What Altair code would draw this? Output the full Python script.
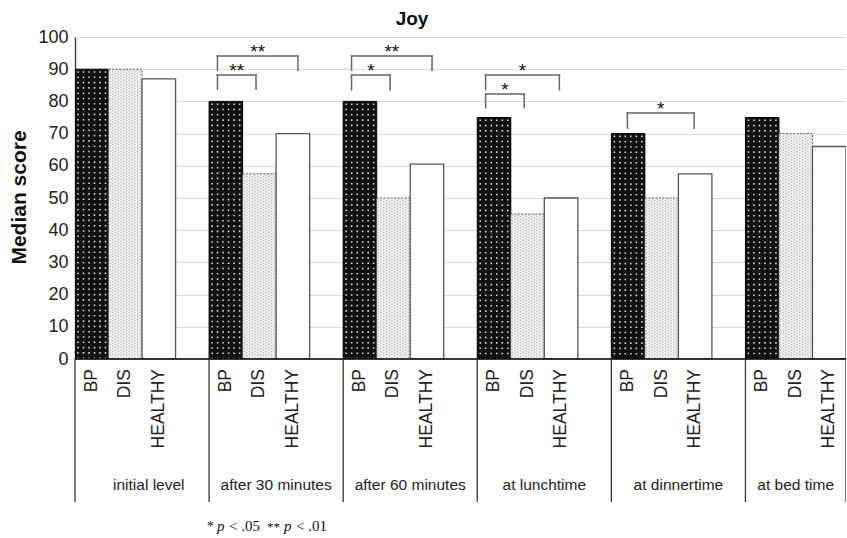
import altair as alt
import pandas as pd

# ---------------- data ----------------
groups = ["initial level", "after 30 minutes", "after 60 minutes",
          "at lunchtime", "at dinnertime", "at bed time"]
series = ["BP", "DIS", "HEALTHY"]
bp_scores = [90, 80, 80, 75, 70, 75]
dis_scores = [90, 57.5, 50, 45, 50, 70]
healthy_scores = [87, 70, 60.5, 50, 57.5, 66]

# significance brackets (group index, left/right leg in slot units within group,
# bracket top and leg end in score units, label)
sig_group = [1, 1, 2, 2, 3, 3, 4]
sig_left = [0.25, 0.25, 0.25, 0.25, 0.25, 0.25, 0.48]
sig_right = [1.4, 2.65, 1.4, 2.65, 1.4, 2.45, 2.47]
sig_top = [88.2, 94.1, 88.2, 94.1, 82.3, 88.2, 76.4]
sig_leg = [83.8, 89.7, 83.6, 89.7, 78.0, 83.6, 71.7]
sig_label = ["**", "**", "*", "**", "*", "*", "*"]

group_label_offset = [2.2, 2.0, 2.0, 2.0, 2.0, 1.5]

footnote_text = ["*", "p", "< .05", "**", "p", "< .01"]
footnote_italic = [False, True, False, False, True, False]
footnote_x = [132, 142, 154, 192, 209, 221]
footnote_size = [14, 15, 15, 13, 15, 15]

y_ticks = list(range(0, 101, 10))

SLOTS = 4
X_MAX = 23
W, H = 771, 322
SANS = "Liberation Sans"
SERIF = "Liberation Serif"

# ---------------- tables ----------------
score_lists = [bp_scores, dis_scores, healthy_scores]
rows = []
for gi, g in enumerate(groups):
    for si, s in enumerate(series):
        start = gi * SLOTS + si
        rows.append({"group": g, "series": s, "score": score_lists[si][gi],
                     "start": start, "end": start + 1, "mid": start + 0.5, "base": 0})
bars = pd.DataFrame(rows)

sig = pd.DataFrame({
    "x1": [g * SLOTS + l for g, l in zip(sig_group, sig_left)],
    "x2": [g * SLOTS + r for g, r in zip(sig_group, sig_right)],
    "top": sig_top, "leg": sig_leg, "label": sig_label,
})
sig["xm"] = (sig["x1"] + sig["x2"]) / 2

glab = pd.DataFrame({"group": groups,
                     "x": [gi * SLOTS + o for gi, o in enumerate(group_label_offset)]})
seps = pd.DataFrame({"x": [gi * SLOTS for gi in range(len(groups))] + [X_MAX]})

xs = alt.Scale(domain=[0, X_MAX], nice=False, zero=False)
ys = alt.Scale(domain=[0, 100], nice=False)

yaxis = alt.Axis(values=y_ticks, grid=True, gridColor="#d9d9d9", gridWidth=1,
                 ticks=False, domain=True, domainColor="#333", domainWidth=1.3,
                 labelFont=SANS, labelFontSize=18, labelColor="#222", labelPadding=7,
                 labelOverlap=False, labelFlush=False, labelBound=False,
                 title="Median score", titleFont=SANS, titleFontSize=21,
                 titleFontWeight="bold", titleColor="#111", titleAngle=270,
                 titleX=-50, titleY=H / 2 - 1, titleAlign="center",
                 titleBaseline="alphabetic")

base = alt.Chart(bars)


def Yq(field):
    return alt.Y(field, type="quantitative", scale=ys, axis=yaxis)


def Xq(field):
    return alt.X(field, type="quantitative", scale=xs, axis=None)


def bar_layer(name, **kw):
    return base.transform_filter(alt.datum.series == name).mark_bar(clip=True, **kw).encode(
        x=Xq("start"), x2="end:Q", y=Yq("score"), y2="base:Q",
    )


layers = []
layers.append(bar_layer("BP", fill="#111111", stroke="#000000", strokeWidth=1))
layers.append(bar_layer("DIS", fill="#eeeeee", stroke="#555555", strokeWidth=1,
                        strokeDash=[2, 1.5]))
layers.append(bar_layer("HEALTHY", fill="#ffffff", stroke="#555555", strokeWidth=1.3))

# BP dot pattern
for k in range(6):
    layers.append(
        base.transform_filter(alt.datum.series == "BP").mark_rule(
            xOffset=3 + 5.5 * k, color="#d2d2d2", strokeWidth=1.6,
            strokeDash=[1.6, 3.7], strokeDashOffset=-2, clip=True
        ).encode(x=Xq("start"), y=Yq("score"), y2="base:Q")
    )
# DIS stipple pattern
for k in range(12):
    layers.append(
        base.transform_filter(alt.datum.series == "DIS").mark_rule(
            xOffset=1.5 + 2.75 * k, color="#a5a5a5", strokeWidth=1,
            strokeDash=[1, 1.8], strokeDashOffset=(-2 if k % 2 else -0.6), clip=True
        ).encode(x=Xq("start"), y=Yq("score"), y2="base:Q")
    )

# baseline
layers.append(alt.Chart(pd.DataFrame({"y": [0]})).mark_rule(color="#000", strokeWidth=1.5)
              .encode(y=Yq("y")))

# significance brackets
sc = alt.Chart(sig)
br = dict(color="#666666", strokeWidth=1.5, strokeCap="square")
layers.append(sc.mark_rule(**br).encode(x=Xq("x1"), x2="x2:Q", y=Yq("top")))
layers.append(sc.mark_rule(**br).encode(x=Xq("x1"), y=Yq("top"), y2="leg:Q"))
layers.append(sc.mark_rule(**br).encode(x=Xq("x2"), y=Yq("top"), y2="leg:Q"))
layers.append(sc.mark_text(font=SANS, fontSize=19, color="#111", baseline="alphabetic",
                           align="center", dy=2).encode(
    x=Xq("xm"), y=Yq("top"), text="label:N"))

# category axis (table-like)
layers.append(alt.Chart(seps).mark_rule(color="#333", strokeWidth=1.3).encode(
    x=Xq("x"), y=alt.value(H), y2=alt.value(H + 143)))
layers.append(base.mark_text(font=SANS, fontSize=17.5, color="#222", angle=270,
                             align="right", baseline="middle").encode(
    x=Xq("mid"), y=alt.value(H + 10), text="series:N"))
layers.append(alt.Chart(glab).mark_text(font=SANS, fontSize=15.5, color="#222",
                                        align="center", baseline="middle").encode(
    x=Xq("x"), y=alt.value(H + 126), text="group:N"))

# title
layers.append(alt.Chart(pd.DataFrame({"t": ["Joy"]})).mark_text(
    font=SANS, fontSize=19, fontWeight="bold", color="#111", align="center",
    baseline="alphabetic").encode(text="t:N", x=alt.value(337), y=alt.value(-12)))

# footnote
for txt, it, fx, fs in zip(footnote_text, footnote_italic, footnote_x, footnote_size):
    layers.append(alt.Chart(pd.DataFrame({"t": [txt]})).mark_text(
        font=SERIF, fontSize=fs, fontStyle=("italic" if it else "normal"), color="#111",
        align="left", baseline="alphabetic").encode(
        text="t:N", x=alt.value(fx), y=alt.value(494)))

chart = alt.layer(*layers).properties(
    width=W, height=H,
    padding={"left": 75, "top": 37, "right": 0, "bottom": 176},
    autosize=alt.AutoSizeParams(type="none"),
).configure_view(stroke=None).configure_axis(labelOverlap=False).configure(background="white")

chart.save("out.html", embed_options={"renderer": "svg", "actions": False})
